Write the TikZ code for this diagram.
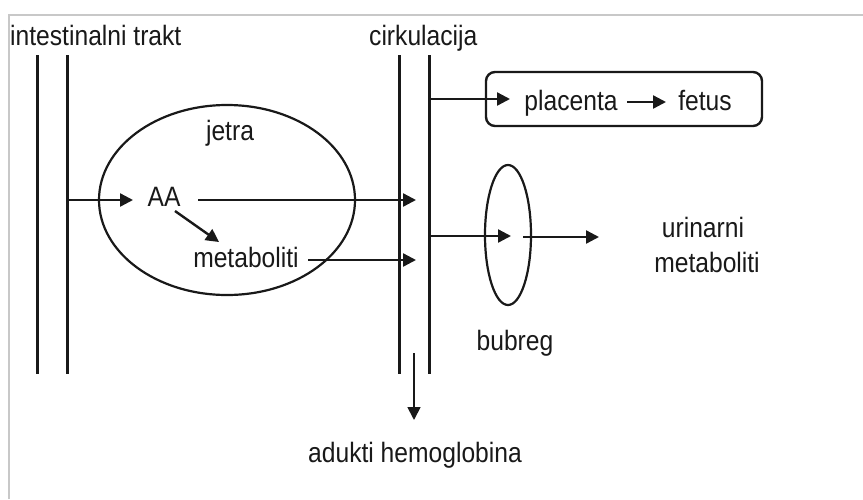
\documentclass[tikz,border=0pt]{standalone}
\usepackage{fontspec}
\setmainfont[FakeStretch=0.88]{Liberation Sans}
\usetikzlibrary{arrows.meta}
\definecolor{framegray}{RGB}{200,200,200}
\definecolor{inkc}{RGB}{25,25,25}
\tikzset{
  lbl/.style={inner sep=0pt, text=inkc, font=\fontsize{28}{32}\selectfont},
  wall/.style={line width=3pt, draw=inkc},
  flow/.style={line width=2.4pt, draw=inkc, -{Triangle[length=13pt,width=13pt]}},
}
\begin{document}
\begin{tikzpicture}[x=1pt,y=-1pt]
\useasboundingbox (0,0) rectangle (863,499);
\fill[white] (0,0) rectangle (863,499);
% frame
\draw[framegray, line width=1.5pt] (9,499) -- (9,15) -- (863,15);
% titles
\node[lbl, anchor=base west] (it) at (10,45) {intestinalni trakt};
\node[lbl, anchor=base west] (ci) at (369,45) {cirkulacija};
% walls
\coordinate (i1t) at (37,55); \coordinate (i1b) at (37,374);
\coordinate (i2t) at (67,55); \coordinate (i2b) at (67,374);
\coordinate (c1t) at (399,55); \coordinate (c1b) at (399,374);
\coordinate (c2t) at (429,55); \coordinate (c2b) at (429,374);
\draw[wall] (i1t) -- (i1b);
\draw[wall] (i2t) -- (i2b);
\draw[wall] (c1t) -- (c1b);
\draw[wall] (c2t) -- (c2b);
% liver
\draw[inkc, line width=2.2pt] (227,200) ellipse [x radius=128, y radius=95];
\node[lbl, anchor=base] (je) at (230,140) {jetra};
\node[lbl, anchor=base] (aa) at (164,206) {AA};
\node[lbl, anchor=base] (me) at (246,267) {metaboliti};
\coordinate (ia) at (67,200);
\coordinate (aatip) at (133,200);
\draw[flow] (ia) -- (aatip);
\coordinate (aas) at (198,200);
\coordinate (c1a) at (416,200);
\draw[flow] (aas) -- (c1a);
\coordinate (aam) at (175,211);
\coordinate (mtip) at (219,242);
\draw[flow] (aam) -- (mtip);
\coordinate (ms) at (308,260);
\coordinate (c1m) at (416,260);
\draw[flow] (ms) -- (c1m);
% placenta box
\draw[inkc, line width=2.4pt, rounded corners=9pt] (486,72) rectangle (762,126);
\node[lbl, anchor=base] (pl) at (571,110) {placenta};
\node[lbl, anchor=base] (fe) at (705,110) {fetus};
\coordinate (cp) at (429,99);
\coordinate (pltip) at (510,99);
\draw[flow] (cp) -- (pltip);
\coordinate (pf1) at (627,102);
\coordinate (pf2) at (666,102);
\draw[flow] (pf1) -- (pf2);
% kidney
\draw[inkc, line width=2.2pt] (508,235) ellipse [x radius=23, y radius=70];
\node[lbl, anchor=base] (bu) at (515,350) {bubreg};
\coordinate (ck) at (429,236);
\coordinate (ktip) at (511,236);
\draw[flow] (ck) -- (ktip);
\coordinate (ko) at (523,237);
\coordinate (utip) at (599,237);
\draw[flow] (ko) -- (utip);
\node[lbl, anchor=base] (ur1) at (703,237) {urinarni};
\node[lbl, anchor=base] (ur2) at (707,272) {metaboliti};
% hemoglobin
\coordinate (hs) at (414,353);
\coordinate (htip) at (414,420);
\draw[flow, line width=1.8pt] (hs) -- (htip);
\node[lbl, anchor=base] (ha) at (415,462) {adukti hemoglobina};
\end{tikzpicture}
\end{document}
